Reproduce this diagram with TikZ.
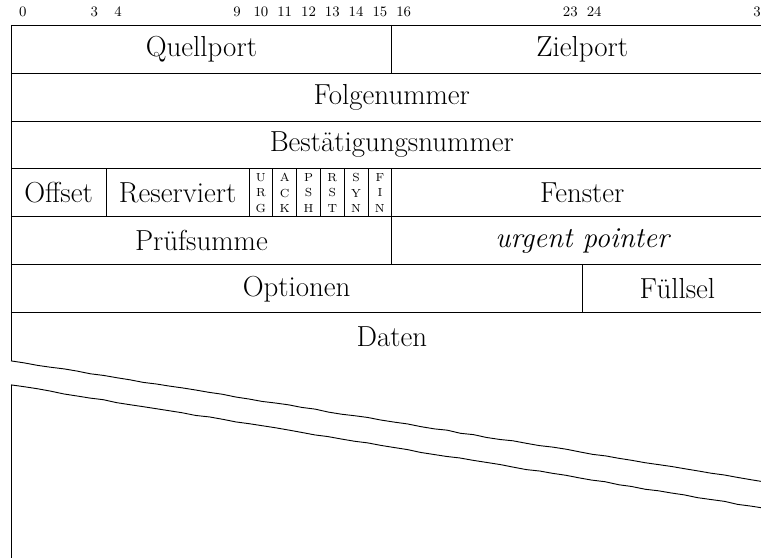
\documentclass[tikz,border=0pt]{standalone}
\usepackage{fontspec}
\usepackage{tikz}
\usetikzlibrary{decorations.pathmorphing}
\tikzset{
  field/.style={font=\fontsize{17.3}{20}\selectfont, inner sep=0pt},
  bitnum/.style={font=\fontsize{8.6}{10}\selectfont, inner sep=0pt},
  flag/.style={font=\fontsize{7}{9.4}\selectfont, align=center, inner sep=0pt},
  tear/.style={decorate, decoration={random steps, segment length=8pt,
               amplitude=0.3pt}},
}

\begin{document}
\begin{tikzpicture}[x=0.5cm, y=1.008cm, line width=0.55pt]
\pgfmathsetseed{7}
\useasboundingbox (-0.462,0.521) rectangle (31.51,-11.088);
\clip (-0.462,0.521) rectangle (31.51,-11.088);

% bit numbers above the header
\foreach \b in {0,3,4,9,10,11,12,13,14,15,16,23,24,31}
  \node[bitnum] (n\b) at (\b+0.5,0.27) {\b};

% row and field borders
\foreach \r in {0,...,6}
  \draw (0,-\r) -- (32,-\r);
\draw (0,0) -- (0,-7);
\draw (32,0) -- (32,-9.54);
\draw (16,0) -- (16,-1) (4,-3) -- (4,-4) (16,-3) -- (16,-5) (24,-5) -- (24,-6);
\foreach \b in {10,...,15}
  \draw (\b,-3) -- (\b,-4);

% fields
\node[field] (src) at (8,-0.5) {Quellport};
\node[field] (dst) at (24,-0.5) {Zielport};
\node[field] (seq) at (16,-1.5) {Folgenummer};
\node[field] (ack) at (16,-2.5) {Best\"atigungsnummer};
\node[field] (off) at (2,-3.5) {Offset};
\node[field] (res) at (7,-3.5) {Reserviert};
\node[field] (win) at (24,-3.5) {Fenster};
\node[field] (chk) at (8,-4.5) {Pr\"ufsumme};
\node[field] (urg) at (24,-4.5) {\itshape urgent pointer};
\node[field] (opt) at (12,-5.5) {Optionen};
\node[field] (pad) at (28,-5.5) {F\"ullsel};
\node[field] (data) at (16,-6.5) {Daten};

% control flags
\foreach \b/\t in {10/{U\\R\\G}, 11/{A\\C\\K}, 12/{P\\S\\H},
                   13/{R\\S\\T}, 14/{S\\Y\\N}, 15/{F\\I\\N}}
  \node[flag] (f\b) at (\b+0.5,-3.5) {\t};

% torn-off data part
\draw[tear] (0,-7) -- (32,-9.54);
\draw[tear] (0,-7.5) -- (32,-10.1);
\draw (0,-7.5) -- (0,-12);
\draw (32,-10.1) -- (32,-12);

\end{tikzpicture}
\end{document}
